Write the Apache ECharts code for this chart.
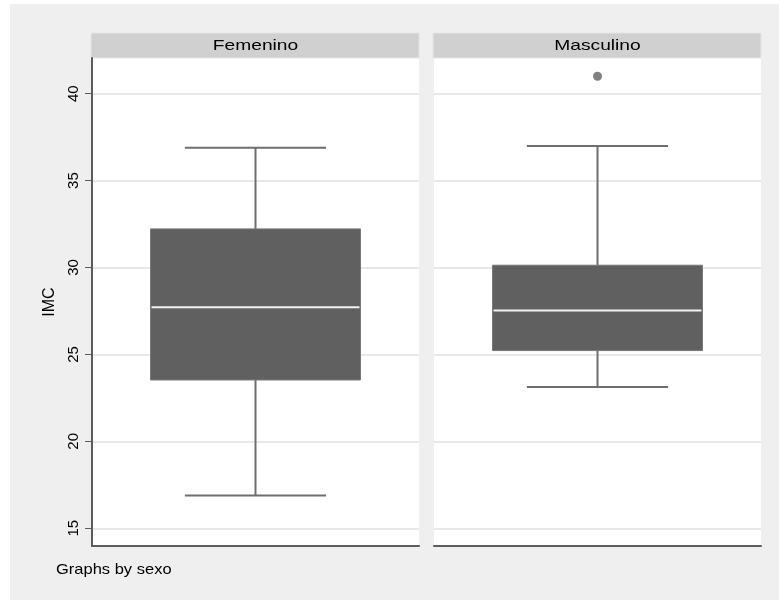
<!DOCTYPE html>
<html>
<head>
<meta charset="utf-8">
<title>IMC por sexo</title>
<script src="https://cdn.jsdelivr.net/npm/echarts@6/dist/echarts.min.js"></script>
<style>
  html, body { margin: 0; padding: 0; background: #fff; }
  #chart { width: 779px; height: 600px; }
</style>
</head>
<body>
<div id="chart"></div>
<script>
// Box-plot summary of IMC for each level of sexo
const groups = ['Femenino', 'Masculino'];
const lowerWhisker = [16.88, 23.13];
const q1 = [23.53, 25.22];
const median = [27.71, 27.52];
const q3 = [32.22, 30.13];
const upperWhisker = [36.89, 36.99];
const outliers = [[], [41.0]];
const yTicks = [15, 20, 25, 30, 35, 40];
const yRange = [13.98, 42.05];

const FONT = '"Liberation Sans", Arial, Helvetica, sans-serif';
const BOX_FILL = '#606060';
const WHISKER = '#6e6e6e';
const AXIS = '#5c5c5c';
const GRID_LINE = '#e8e8e8';

// panel geometry (pixels)
const panels = [
  { left: 92, width: 327 },
  { left: 434, width: 327 }
];
const plotTop = 58, plotBottom = 546;
const stripTop = 33;

function renderBox(params, api) {
  const cat = api.value(0);
  const band = api.size([1, 0])[0];
  const half = band * 0.321;
  const capHalf = band * 0.216;
  const xc = api.coord([cat, api.value(3)])[0];
  const yLo = api.coord([cat, api.value(1)])[1];
  const yQ1 = api.coord([cat, api.value(2)])[1];
  const yMed = api.coord([cat, api.value(3)])[1];
  const yQ3 = api.coord([cat, api.value(4)])[1];
  const yHi = api.coord([cat, api.value(5)])[1];
  const lineStyle = { stroke: WHISKER, lineWidth: 2 };
  return {
    type: 'group',
    children: [
      { type: 'line', shape: { x1: xc, y1: yQ3, x2: xc, y2: yHi }, style: lineStyle },
      { type: 'line', shape: { x1: xc, y1: yQ1, x2: xc, y2: yLo }, style: lineStyle },
      { type: 'line', shape: { x1: xc - capHalf, y1: yHi, x2: xc + capHalf, y2: yHi }, style: lineStyle },
      { type: 'line', shape: { x1: xc - capHalf, y1: yLo, x2: xc + capHalf, y2: yLo }, style: lineStyle },
      { type: 'rect', shape: { x: xc - half, y: yQ3, width: 2 * half, height: yQ1 - yQ3 },
        style: { fill: BOX_FILL, stroke: '#777777', lineWidth: 1 } },
      { type: 'line', shape: { x1: xc - half + 1, y1: yMed, x2: xc + half - 1, y2: yMed },
        style: { stroke: '#f2f2f2', lineWidth: 2 } }
    ]
  };
}

const grids = panels.map(p => ({
  left: p.left, width: p.width, top: plotTop, height: plotBottom - plotTop,
  show: true, backgroundColor: '#ffffff', borderWidth: 0
}));

const xAxes = groups.map((g, i) => ({
  type: 'category', gridIndex: i, data: [g],
  axisLine: { show: true, lineStyle: { color: AXIS, width: 2 } },
  axisTick: { show: false }, axisLabel: { show: false }, splitLine: { show: false }
}));

const yAxes = groups.map((g, i) => ({
  type: 'value', gridIndex: i, min: yRange[0], max: yRange[1],
  name: i === 0 ? 'IMC' : '',
  nameLocation: 'middle', nameRotate: 90, nameGap: 34,
  nameTextStyle: { fontFamily: FONT, fontSize: 16, color: '#000' },
  axisLine: { show: i === 0, onZero: false, lineStyle: { color: AXIS, width: 2 } },
  axisTick: { show: i === 0, length: 7, customValues: yTicks, lineStyle: { color: AXIS, width: 1 } },
  axisLabel: { show: i === 0, customValues: yTicks, rotate: 90, margin: 11,
    fontFamily: FONT, fontSize: 15, color: '#000' },
  splitLine: { show: true, lineStyle: { color: GRID_LINE, width: 2 } }
}));

const series = groups.map((g, i) => ({
  type: 'custom', xAxisIndex: i, yAxisIndex: i,
  renderItem: renderBox,
  encode: { x: 0, y: [1, 2, 3, 4, 5] },
  data: [[0, lowerWhisker[i], q1[i], median[i], q3[i], upperWhisker[i]]],
  z: 3
}));
groups.forEach((g, i) => {
  if (outliers[i].length) {
    series.push({
      type: 'scatter', xAxisIndex: i, yAxisIndex: i,
      symbol: 'circle', symbolSize: 9,
      itemStyle: { color: BOX_FILL },
      data: outliers[i].map(v => [0, v]),
      z: 4
    });
  }
});

// outer background, panel header strips, and the by-variable note
const graphics = [
  { type: 'rect', z: -10, shape: { x: 10, y: 4, width: 769, height: 596 },
    style: { fill: '#efefef' } }
];
panels.forEach((p, i) => {
  graphics.push({ type: 'rect', shape: { x: p.left - 1, y: stripTop, width: p.width + 1, height: plotTop - stripTop },
    style: { fill: '#d0d0d0', stroke: '#dfe6e6', lineWidth: 1 } });
  graphics.push({ type: 'text', x: p.left + p.width / 2, y: (stripTop + plotTop) / 2 + 0.5, scaleX: 1.28,
    style: { text: groups[i], fontFamily: FONT, fontSize: 15, fill: '#000', align: 'center', verticalAlign: 'middle' } });
});
graphics.push({ type: 'text', x: 56, y: 570, scaleX: 1.1,
  style: { text: 'Graphs by sexo', fontFamily: FONT, fontSize: 15, fill: '#000', align: 'left', verticalAlign: 'middle' } });

const chart = echarts.init(document.getElementById('chart'), null, { renderer: 'canvas' });
chart.setOption({
  backgroundColor: '#ffffff',
  animation: false,
  grid: grids,
  xAxis: xAxes,
  yAxis: yAxes,
  series: series,
  graphic: { elements: graphics }
});
</script>
</body>
</html>
